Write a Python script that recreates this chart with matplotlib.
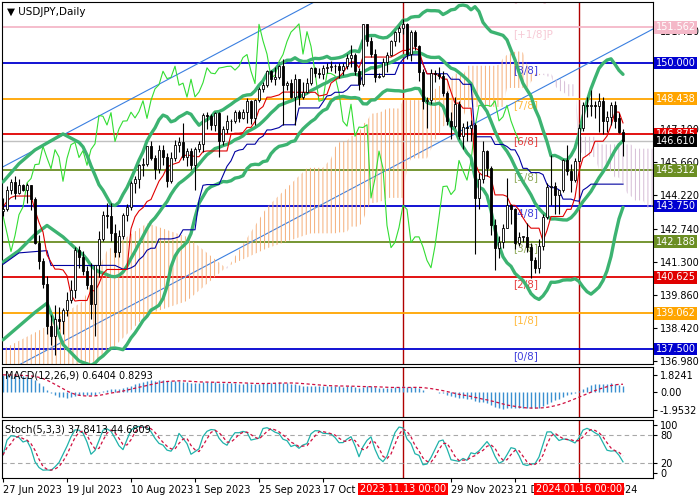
import matplotlib
matplotlib.use("Agg")
import matplotlib.pyplot as plt
import numpy as np
import pandas as pd

# --- price data (daily bars, 27 Jun 2023 .. 31 Jan 2024) ---
opens = [
    143.55, 143.60, 144.46, 144.78, 144.31, 144.66, 144.47, 144.65, 144.04, 142.13,
    141.34, 140.35, 138.49, 138.06, 138.80, 138.74, 139.19, 139.66, 140.08, 141.81,
    141.50, 140.93, 140.28, 139.46, 141.16, 142.29, 143.35, 143.33, 142.56, 141.76,
    142.46, 143.37, 143.71, 144.76, 144.95, 145.56, 145.58, 146.36, 145.85, 145.38,
    146.21, 145.89, 144.83, 145.83, 146.43, 146.53, 145.87, 146.17, 145.53, 146.22,
    146.47, 147.71, 147.67, 147.29, 147.83, 146.57, 147.12, 147.46, 147.47, 147.85,
    147.60, 147.88, 148.35, 147.58, 148.37, 148.87, 149.05, 149.64, 149.32, 149.37,
    149.86, 149.03, 149.12, 148.51, 149.29, 148.52, 148.73, 149.14, 149.79, 149.56,
    149.53, 149.78, 149.81, 149.85, 149.86, 149.69, 149.86, 150.24, 150.37, 149.64,
    149.10, 151.69, 150.97, 150.39, 149.38, 149.45, 150.06, 150.37, 150.94, 151.35,
    151.52, 151.71, 150.39, 151.37, 150.73, 149.60, 148.33, 148.38, 149.55, 149.54,
    149.44, 148.70, 147.45, 147.24, 148.20, 146.80, 147.20, 147.18, 147.30, 144.10,
    144.95, 146.15, 145.40, 142.90, 141.93, 142.16, 142.81, 143.78, 143.60, 142.15,
    142.40, 142.40, 141.96, 141.37, 141.05, 142.00, 143.28, 144.60, 144.62, 144.25,
    144.46, 145.74, 145.29, 144.88, 145.72, 147.18, 148.15, 148.13, 148.15, 148.11,
    148.35, 147.47, 147.65, 148.15, 147.60, 147.00,
]
highs = [
    144.10, 144.62, 144.94, 145.07, 144.91, 144.72, 144.74, 144.67, 144.16, 142.50,
    141.49, 140.70, 138.98, 139.41, 139.35, 139.30, 139.99, 140.52, 141.95, 142.00,
    141.78, 141.12, 141.26, 141.17, 142.66, 143.54, 143.90, 143.88, 142.97, 142.68,
    143.46, 143.85, 144.85, 145.05, 145.57, 145.86, 146.39, 146.57, 146.00, 146.42,
    146.40, 146.05, 146.12, 146.64, 146.76, 147.37, 146.30, 146.28, 146.35, 146.59,
    147.81, 147.87, 147.76, 147.87, 147.87, 147.24, 147.73, 147.55, 147.95, 147.93,
    148.01, 148.46, 148.40, 148.43, 148.96, 149.17, 149.71, 149.71, 149.81, 149.91,
    150.16, 149.20, 149.28, 149.53, 149.32, 149.16, 149.33, 149.84, 149.84, 149.76,
    149.90, 149.99, 150.08, 149.97, 150.01, 149.98, 150.38, 150.78, 150.43, 149.80,
    151.72, 151.72, 151.12, 150.63, 149.55, 150.20, 150.47, 151.00, 151.41, 151.60,
    151.91, 151.73, 151.43, 151.44, 150.80, 149.74, 148.50, 149.75, 149.68, 149.82,
    149.65, 148.79, 147.88, 148.50, 148.32, 147.36, 147.46, 147.50, 147.37, 145.20,
    146.59, 146.20, 145.50, 143.18, 142.46, 142.95, 144.96, 143.83, 143.66, 142.63,
    142.46, 143.00, 142.13, 141.52, 142.30, 143.40, 144.76, 145.98, 144.80, 144.39,
    145.82, 146.41, 145.58, 145.85, 147.32, 148.29, 148.52, 148.81, 148.34, 148.70,
    148.50, 147.90, 148.31, 148.32, 147.80, 147.10,
]
lows = [
    143.30, 143.55, 144.26, 144.07, 144.26, 144.40, 143.90, 143.56, 142.07, 140.99,
    140.16, 138.16, 137.68, 137.24, 138.36, 138.17, 138.93, 139.51, 139.74, 141.05,
    140.73, 140.13, 138.80, 138.05, 140.66, 142.23, 142.78, 142.20, 141.54, 141.50,
    142.31, 143.10, 143.58, 144.30, 144.52, 145.07, 145.50, 145.78, 144.91, 145.20,
    145.52, 144.56, 144.75, 145.72, 146.13, 145.78, 145.49, 145.35, 144.44, 146.11,
    146.11, 147.13, 147.09, 147.01, 145.91, 146.42, 146.96, 147.02, 147.37, 147.41,
    147.55, 147.37, 147.32, 147.30, 148.30, 148.72, 148.95, 149.17, 149.03, 149.31,
    147.30, 148.82, 148.48, 147.28, 148.16, 148.42, 148.70, 149.05, 149.37, 149.34,
    149.31, 149.56, 149.65, 149.55, 149.33, 149.49, 149.73, 149.83, 149.46, 148.80,
    148.98, 150.75, 150.25, 149.19, 149.35, 149.40, 149.59, 150.30, 150.76, 150.90,
    151.28, 150.16, 150.08, 150.58, 149.20, 147.99, 147.15, 148.20, 149.15, 149.30,
    148.56, 147.28, 146.67, 147.14, 146.67, 146.23, 146.60, 146.58, 141.64, 143.62,
    144.75, 145.05, 142.47, 140.97, 141.48, 141.91, 142.78, 142.97, 141.88, 141.98,
    142.16, 141.74, 140.60, 140.80, 140.80, 141.83, 143.20, 143.80, 143.42, 143.40,
    144.35, 145.10, 144.35, 144.80, 145.71, 147.02, 147.63, 147.68, 147.60, 146.98,
    146.90, 147.00, 147.28, 147.15, 146.95, 145.95,
]
closes = [
    143.60, 144.46, 144.78, 144.31, 144.66, 144.47, 144.65, 144.04, 142.13, 141.34,
    140.35, 138.49, 138.06, 138.80, 138.74, 139.19, 139.66, 140.08, 141.81, 141.50,
    140.93, 140.28, 139.46, 141.16, 142.29, 143.35, 143.33, 142.56, 141.76, 142.46,
    143.37, 143.71, 144.76, 144.95, 145.56, 145.58, 146.36, 145.85, 145.38, 146.21,
    145.89, 144.83, 145.83, 146.43, 146.53, 145.87, 146.17, 145.53, 146.22, 146.47,
    147.71, 147.67, 147.29, 147.83, 146.57, 147.12, 147.46, 147.47, 147.85, 147.60,
    147.88, 148.35, 147.58, 148.37, 148.87, 149.05, 149.64, 149.32, 149.37, 149.86,
    149.03, 149.12, 148.51, 149.29, 148.52, 148.73, 149.14, 149.79, 149.56, 149.53,
    149.78, 149.81, 149.85, 149.86, 149.69, 149.86, 150.24, 150.37, 149.64, 149.10,
    151.69, 150.97, 150.39, 149.38, 149.45, 150.06, 150.37, 150.94, 151.35, 151.52,
    151.71, 150.39, 151.37, 150.73, 149.60, 148.33, 148.38, 149.55, 149.54, 149.44,
    148.70, 147.45, 147.24, 148.20, 146.80, 147.20, 147.18, 147.30, 144.10, 144.95,
    146.15, 145.40, 142.90, 141.93, 142.16, 142.81, 143.78, 143.60, 142.15, 142.40,
    142.40, 141.96, 141.37, 141.05, 142.00, 143.28, 144.60, 144.62, 144.25, 144.46,
    145.74, 145.29, 144.88, 145.72, 147.18, 148.15, 148.13, 148.15, 148.11, 148.35,
    147.47, 147.65, 148.15, 147.47, 147.00, 146.61,
]

# indicator values (history before the first bar)
bb_early_x = [0, 4, 8, 11, 15]
bb_early_up = [144.8, 145.6, 146.2, 146.5, 146.9]
bb_early_mid = [141.3, 141.8, 142.5, 142.9, 142.4]
bb_early_lo = [137.9, 138.5, 139.1, 139.5, 137.7]
kijun_early_x = [0, 4, 11, 12, 24]
kijun_early = [141.2, 141.7, 141.8, 141.15, 141.15]
cloud_early_x = [-1, 10, 20, 26, 36, 46, 56, 66, 76]
cloud_early_a = [137.4, 138.4, 139.6, 141.8, 143.0, 142.4, 141.0, 143.7, 145.4]
cloud_early_b = [134.5, 135.3, 136.3, 137.3, 139.0, 139.6, 141.1, 141.9, 142.5]
ema_seed_fast, ema_seed_slow = 142.75, 140.85

# Murrey math levels
mm_levels = [153.125, 151.562, 150.000, 148.438, 146.875, 145.312,
             143.750, 142.188, 140.625, 139.062, 137.500]
mm_names = ["[+2/8]", "[+1/8]P", "[8/8]", "[7/8]", "[6/8]", "[5/8]",
            "[4/8]", "[3/8]", "[2/8]", "[1/8]", "[0/8]"]
mm_colors = ["#F4B8C8", "#F4B8C8", "#0000D0", "#FFA500", "#E00000", "#6B8E23",
             "#0000D0", "#6B8E23", "#E00000", "#FFA500", "#0000D0"]

price_ticks = [136.98, 138.42, 139.86, 141.30, 142.74, 144.22, 145.66, 147.10, 151.42]
last_price = 146.610

# trend channel anchors (bar index, price)
chan_x = [-5, 170]
chan_up = [145.00, 161.20]
chan_lo = [135.97, 152.18]

# marked dates
vline_bars = [100, 144]
vline_text = ["2023.11.13 00:00", "2024.01.16 00:00"]
date_ticks = [0, 16, 32, 48, 64, 80, 112, 128, 144]
date_labels = ["27 Jun 2023", "19 Jul 2023", "10 Aug 2023", "1 Sep 2023",
               "25 Sep 2023", "17 Oct 2023", "29 Nov 2023",
               "21 Dec 2023", "16 Jan 2024"]

df = pd.DataFrame({"o": opens, "h": highs, "l": lows, "c": closes})
n = len(df)
idx = np.arange(n)

# indicators from the bars
mid = df.c.rolling(20).mean()
sd = df.c.rolling(20).std(ddof=0)
bb_up, bb_lo = mid + 2 * sd, mid - 2 * sd
tenkan = (df.h.rolling(9, min_periods=1).max() + df.l.rolling(9, min_periods=1).min()) / 2
kijun = (df.h.rolling(26).max() + df.l.rolling(26).min()) / 2
span_a = (tenkan + kijun) / 2
span_b = (df.h.rolling(52).max() + df.l.rolling(52).min()) / 2


def ema(values, span, seed):
    alpha = 2 / (span + 1)
    out, e = [], seed
    for v in values:
        e += alpha * (v - e)
        out.append(e)
    return np.array(out)


macd = ema(closes, 12, ema_seed_fast) - ema(closes, 26, ema_seed_slow)
signal = pd.Series(macd).rolling(9, min_periods=1).mean()
ll = df.l.rolling(5, min_periods=1).min()
hh = df.h.rolling(5, min_periods=1).max()
k = 100 * (df.c - ll).rolling(3, min_periods=1).sum() / (hh - ll).rolling(3, min_periods=1).sum()
d = k.rolling(3, min_periods=1).mean()

plt.rcParams["hatch.linewidth"] = 0.7
fig = plt.figure(figsize=(7, 5), dpi=100)
W, H = 700, 500


def panel(top, bottom):
    return fig.add_axes([2 / W, 1 - bottom / H, 651 / W, (bottom - top) / H])


ax = panel(2, 364)
axm = panel(367, 417)
axs = panel(420, 478)
for a in (ax, axm, axs):
    a.set_xlim(-0.25, 162.5)
    a.yaxis.tick_right()
    a.tick_params(axis="y", labelsize=7, length=3, pad=2)
    a.tick_params(axis="x", bottom=False, labelbottom=False)
    for vb in vline_bars:
        a.axvline(vb, color="#B00000", lw=1, zorder=1)

# main chart
ax.set_ylim(136.844, 152.666)
ax.set_yticks(price_ticks)
ax.set_yticklabels([f"{t:.3f}" for t in price_ticks])

for lvl, col in zip(mm_levels, mm_colors):
    ax.axhline(lvl, color=col, lw=1.3, zorder=1)
for lvl, name, col in zip(mm_levels, mm_names, mm_colors):
    ax.text(127.5, lvl - 0.08, name, color=col, fontsize=7.5, va="top", ha="left",
            alpha=0.75, clip_on=True, zorder=2)
ax.axhline(last_price, color="#C0C0C0", lw=1, zorder=1)

ax.plot(chan_x, chan_up, color="#3A7FE0", lw=0.8, zorder=1)
ax.plot(chan_x, chan_lo, color="#3A7FE0", lw=0.8, zorder=1)

# cloud, shifted 26 bars ahead
cloud_x = np.array(cloud_early_x + list(range(77, n + 26)))
cloud_a = np.array(cloud_early_a + list(span_a[51:]))
cloud_b = np.array(cloud_early_b + list(span_b[51:]))
ax.fill_between(cloud_x, cloud_a, cloud_b, where=cloud_a >= cloud_b, interpolate=True,
                facecolor="none", edgecolor="#F5AE78", hatch="||||", lw=0, zorder=1)
ax.fill_between(cloud_x, cloud_a, cloud_b, where=cloud_a < cloud_b, interpolate=True,
                facecolor="none", edgecolor="#D6BCD6", hatch="||||", lw=0, zorder=1)

ax.plot(idx - 26, df.c, color="#33DD33", lw=0.8, zorder=2)
for early, band in ((bb_early_up, bb_up), (bb_early_mid, mid), (bb_early_lo, bb_lo)):
    ax.plot(bb_early_x + list(idx[19:]), early + list(band[19:]), color="#3CB371",
            lw=2.4, zorder=3, solid_capstyle="round")
ax.plot(kijun_early_x + list(idx[25:]), kijun_early + list(kijun[25:]),
        color="#0000A0", lw=0.8, zorder=4)
ax.plot(idx, tenkan, color="#E00000", lw=0.8, zorder=4)

up = df.c >= df.o
ax.vlines(idx, df.l, df.h, color="black", lw=0.8, zorder=5)
body_lo = np.minimum(df.o, df.c)
body_h = np.maximum(np.abs(df.c - df.o), 0.02)
ax.bar(idx, body_h, bottom=body_lo, width=0.65,
       color=np.where(up, "white", "black"), edgecolor="black", lw=0.6, zorder=6)

label_tr = ax.get_yaxis_transform()
for lvl, col in zip(mm_levels[1:], mm_colors[1:]):
    ax.text(1.004, lvl, f"{lvl:.3f}", transform=label_tr, color="white", fontsize=7,
            va="center", ha="left", zorder=10,
            bbox=dict(boxstyle="square,pad=0.15", fc=col, ec="none"))
ax.text(1.004, last_price, f"{last_price:.3f}", transform=label_tr, color="white",
        fontsize=7, va="center", ha="left", zorder=11,
        bbox=dict(boxstyle="square,pad=0.15", fc="black", ec="none"))
ax.text(0.008, 0.985, "\u25bc USDJPY,Daily", transform=ax.transAxes, fontsize=7.5,
        va="top", ha="left")

# MACD
axm.set_ylim(-2.66, 2.66)
axm.vlines(idx, 0, macd, color="#3A8FD0", lw=1)
axm.plot(idx, signal, color="#D01040", lw=0.9, ls=(0, (2.5, 2)))
axm.set_yticks([1.8241, 0.0, -1.9532])
axm.set_yticklabels(["1.8241", "0.00", "-1.9532"])
axm.text(0.005, 0.93, f"MACD(12,26,9) {0.6404:.4f} {0.8293:.4f}",
         transform=axm.transAxes, fontsize=7, va="top", ha="left")

# Stochastic
axs.set_ylim(-11.2, 111.6)
for lv in (80, 20):
    axs.axhline(lv, color="#A8A8A8", lw=0.8, ls=(0, (4, 3)))
axs.plot(idx, k, color="#20B2AA", lw=0.9)
axs.plot(idx, d, color="#D01040", lw=0.9, ls=(0, (2.5, 2)))
axs.set_yticks([100, 80, 20, 0])
axs.set_yticklabels(["100", "80", "20", "0"])
axs.text(0.005, 0.93, f"Stoch(5,3,3) {37.8413:.4f} {44.6809:.4f}",
         transform=axs.transAxes, fontsize=7, va="top", ha="left")

axs.set_xticks(date_ticks)
axs.set_xticklabels(date_labels, ha="left")
axs.tick_params(axis="x", bottom=True, labelbottom=True, labelsize=7, length=3, pad=2)

for vb, txt in zip(vline_bars, vline_text):
    axs.text(vb, -0.19, txt, transform=axs.get_xaxis_transform(), color="white",
             fontsize=7, ha="center", va="center", zorder=10,
             bbox=dict(boxstyle="square,pad=0.15", fc="#FF0000", ec="none"))

fig.savefig("out.png", dpi=100)
